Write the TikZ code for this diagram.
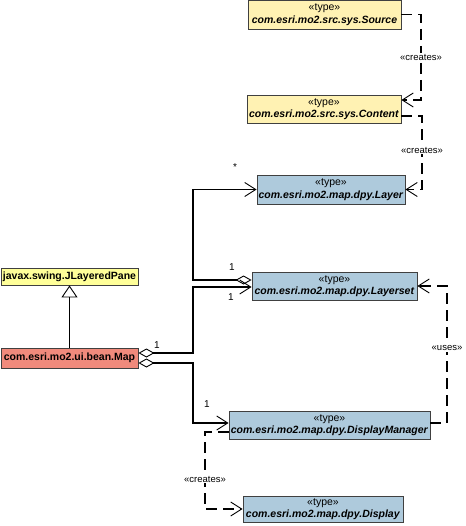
\documentclass[tikz,border=0pt]{standalone}
\usepackage{fontspec}
\setmainfont{Liberation Sans}
\usetikzlibrary{arrows.meta}

\definecolor{srcyellow}{HTML}{FFF2B3}
\definecolor{paneyellow}{HTML}{FFFF99}
\definecolor{dpyblue}{HTML}{AECADC}
\definecolor{mapred}{HTML}{F08A7C}
\definecolor{boxline}{HTML}{404040}

\begin{document}
\begin{tikzpicture}[x=1pt,y=-1pt,
    typebox/.style={shape=rectangle,draw=boxline,line width=0.9pt,inner sep=0pt,align=center,font=\fontsize{10.5}{12.5}\selectfont},
    assoc/.style={line width=1.4pt},
    dep/.style={line width=1.4pt,dash pattern=on 11pt off 6pt},
    lbl/.style={fill=white,inner sep=1pt,font=\fontsize{9.5}{11}\selectfont},
    mult/.style={font=\fontsize{10}{12}\selectfont},
    opentip/.style={-{Straight Barb[length=11pt,width=14pt,line width=0.9pt]}},
    aggtip/.style={{Diamond[open,length=16pt,width=9pt,line width=0.9pt]}-{Straight Barb[length=11pt,width=14pt,line width=0.9pt]}}
  ]
\useasboundingbox (0,0) rectangle (465,526);

% the classes
\node (Source) at (324.5,14.5) [typebox,fill=srcyellow,minimum width=153,minimum height=29]
    {«type»\\\textbf{\textit{com.esri.mo2.src.sys.Source}}};
\node (Content) at (324,109) [typebox,fill=srcyellow,minimum width=154,minimum height=28]
    {«type»\\\textbf{\textit{com.esri.mo2.src.sys.Content}}};
\node (Layer) at (331,189.5) [typebox,fill=dpyblue,minimum width=148,minimum height=29]
    {«type»\\\textbf{\textit{com.esri.mo2.map.dpy.Layer}}};
\node (Layerset) at (334.5,286) [typebox,fill=dpyblue,minimum width=165,minimum height=28]
    {«type»\\\textbf{\textit{com.esri.mo2.map.dpy.Layerset}}};
\node (Pane) at (69.5,276.5) [typebox,fill=paneyellow,minimum width=137,minimum height=17]
    {\textbf{javax.swing.JLayeredPane}};
\node (Map) at (69.5,358) [typebox,fill=mapred,minimum width=137,minimum height=20]
    {\textbf{com.esri.mo2.ui.bean.Map}};
\node (Manager) at (329.5,425) [typebox,fill=dpyblue,minimum width=201,minimum height=28]
    {«type»\\\textbf{\textit{com.esri.mo2.map.dpy.DisplayManager}}};
\node (Display) at (323,509) [typebox,fill=dpyblue,minimum width=160,minimum height=26]
    {«type»\\\textbf{\textit{com.esri.mo2.map.dpy.Display}}};

% bends
\coordinate (bendA) at (421,57);
\coordinate (bendB) at (422,150);
\coordinate (bendC) at (193,235);
\coordinate (bendD) at (193,320);
\coordinate (bendE) at (193,395);
\coordinate (bendF) at (447,348);
\coordinate (bendG) at (205,479);

% generalization
\draw[assoc,-{Triangle[open,length=12pt,width=16pt,line width=0.9pt]}] (Map) -- (Pane);

% aggregations
\draw[assoc,aggtip] ([yshift=6pt]Layerset.west) -| (bendC) |- (Layer.west);
\draw[assoc,aggtip] ([yshift=5pt]Map.east) -| (bendD) |- ([yshift=-1pt]Layerset.west);
\draw[assoc,aggtip] ([yshift=-5pt]Map.east) -| (bendE) |- ([yshift=2pt]Manager.west);

% dependencies
\draw[dep,opentip] (Source.east) -| (bendA) |- ([yshift=9pt]Content.east);
\draw[dep,opentip] ([yshift=-7pt]Content.east) -| (bendB) |- (Layer.east);
\draw[dep,opentip] ([yshift=2pt]Manager.east) -| (bendF) |- (Layerset.east);
\draw[dep,opentip] ([yshift=-7pt]Manager.west) -| (bendG) |- (Display.west);

\node[lbl] (creates1) at (bendA) {«creates»};
\node[lbl] (creates2) at (bendB) {«creates»};
\node[lbl] (uses) at (bendF) {«uses»};
\node[lbl] (creates3) at (bendG) {«creates»};

% multiplicities
\node[mult] (mLayer) at (235,167) {*};
\node[mult] (mSetTop) at (232,267) {1};
\node[mult] (mSetBot) at (231,297) {1};
\node[mult] (mMap) at (157,345) {1};
\node[mult] (mManager) at (207,404) {1};
\end{tikzpicture}
\end{document}
